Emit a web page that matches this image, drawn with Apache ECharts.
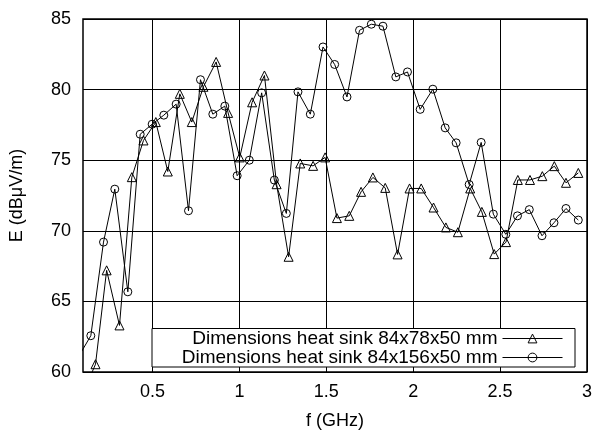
<!DOCTYPE html>
<html>
<head>
<meta charset="utf-8">
<script src="https://cdn.jsdelivr.net/npm/echarts@6/dist/echarts.min.js"></script>
<style>html,body{margin:0;padding:0;background:#fff;}#c{width:593px;height:430px;}</style>
</head>
<body>
<div id="c"></div>
<script>
// Data
const freqTri = [0.10, 0.172, 0.236, 0.31, 0.381, 0.448, 0.519, 0.588, 0.657, 0.726, 0.793, 0.866, 0.935, 1.002, 1.073, 1.144, 1.214, 1.283, 1.35, 1.424, 1.493, 1.561, 1.632, 1.70, 1.768, 1.839, 1.91, 1.979, 2.046, 2.117, 2.188, 2.257, 2.328, 2.395, 2.466, 2.534, 2.602, 2.672, 2.743, 2.812, 2.879, 2.95];
const eTri = [58.5, 60.55, 67.2, 63.3, 73.8, 76.4, 77.7, 74.2, 79.7, 77.7, 80.2, 81.96, 78.35, 75.2, 79.1, 81.0, 73.3, 68.16, 74.77, 74.6, 75.2, 70.9, 71.06, 72.76, 73.78, 73.04, 68.33, 73.0, 73.0, 71.65, 70.24, 69.9, 73.0, 71.34, 68.35, 69.2, 73.6, 73.6, 73.87, 74.58, 73.4, 74.1];
const freqCirc = [0.075, 0.145, 0.218, 0.283, 0.358, 0.429, 0.498, 0.565, 0.636, 0.707, 0.776, 0.847, 0.916, 0.987, 1.057, 1.128, 1.201, 1.27, 1.337, 1.408, 1.481, 1.548, 1.619, 1.691, 1.759, 1.826, 1.90, 1.967, 2.04, 2.113, 2.184, 2.247, 2.322, 2.391, 2.461, 2.533, 2.60, 2.668, 2.741, 2.81, 2.879, 2.95];
const eCirc = [61.1, 62.57, 69.2, 72.95, 65.68, 76.84, 77.55, 78.19, 78.97, 71.42, 80.7, 78.26, 78.83, 73.9, 75.0, 79.77, 73.59, 71.23, 79.84, 78.26, 83.02, 81.78, 79.48, 84.2, 84.63, 84.49, 80.9, 81.25, 78.6, 80.03, 77.29, 76.23, 73.28, 76.26, 71.18, 69.75, 71.06, 71.5, 69.65, 70.57, 71.58, 70.76];
const xTicks = [0.5, 1, 1.5, 2, 2.5, 3];
const yTicks = [60, 65, 70, 75, 80, 85];
const seriesNames = ['Dimensions heat sink 84x78x50 mm', 'Dimensions heat sink 84x156x50 mm'];
const xName = 'f (GHz)';
const yName = 'E (dBμV/m)';

const zip = (a, b) => a.map((v, i) => [v, b[i]]);
const FONT = 'Liberation Sans';
const FS = 18;

const chart = echarts.init(document.getElementById('c'), null, {renderer: 'canvas'});
const mkSeries = (name, data, symbol, size) => ({
  name: name,
  type: 'line',
  data: data,
  symbol: symbol,
  symbolSize: size,
  showSymbol: true,
  clip: true,
  animation: false,
  z: 2,
  lineStyle: {color: '#000', width: 1},
  itemStyle: {color: 'rgba(0,0,0,0)', borderColor: '#000', borderWidth: 1},
  emphasis: {disabled: true}
});

chart.setOption({
  backgroundColor: '#fff',
  animation: false,
  grid: {left: 83, right: 6, top: 19, bottom: 58, containLabel: false, outerBoundsMode: 'none',
         show: true, borderColor: '#000', borderWidth: 1.5, backgroundColor: 'rgba(0,0,0,0)'},
  xAxis: {
    type: 'value', min: 0.1, max: 3,
    name: xName, nameLocation: 'middle', nameGap: 40,
    nameTextStyle: {fontFamily: FONT, fontSize: FS, color: '#000'},
    axisLine: {show: false},
    axisTick: {show: false, customValues: xTicks},
    axisLabel: {customValues: xTicks, fontFamily: FONT, fontSize: FS, color: '#000', margin: 11, hideOverlap: false},
    splitLine: {show: true, lineStyle: {color: '#000', width: 1}}
  },
  yAxis: {
    type: 'value', min: 60, max: 85, interval: 5,
    name: yName, nameLocation: 'middle', nameGap: 57, nameRotate: 90,
    nameTextStyle: {fontFamily: FONT, fontSize: FS, color: '#000'},
    axisLine: {show: false},
    axisTick: {show: false},
    axisLabel: {customValues: yTicks, fontFamily: FONT, fontSize: FS, color: '#000', margin: 12},
    splitLine: {show: true, lineStyle: {color: '#000', width: 1}}
  },
  graphic: [{
    type: 'rect', z: 3,
    shape: {x: 152, y: 328.5, width: 423, height: 38.5},
    style: {fill: '#fff', stroke: '#000', lineWidth: 1}
  }],
  legend: {
    orient: 'vertical', align: 'right', right: 30, top: 329, padding: 0,
    itemWidth: 60, itemHeight: 11, itemGap: 0, z: 4,
    selectedMode: false,
    textStyle: {fontFamily: FONT, fontSize: 19, color: '#000', lineHeight: 18.4},
    data: seriesNames.map(n => ({
      name: n,
      itemStyle: {color: 'rgba(0,0,0,0)', borderColor: '#000', borderWidth: 1},
      lineStyle: {color: '#000', width: 1}
    }))
  },
  series: [
    mkSeries(seriesNames[0], zip(freqTri, eTri), 'triangle', 9),
    mkSeries(seriesNames[1], zip(freqCirc, eCirc), 'circle', 8)
  ]
});
</script>
</body>
</html>
